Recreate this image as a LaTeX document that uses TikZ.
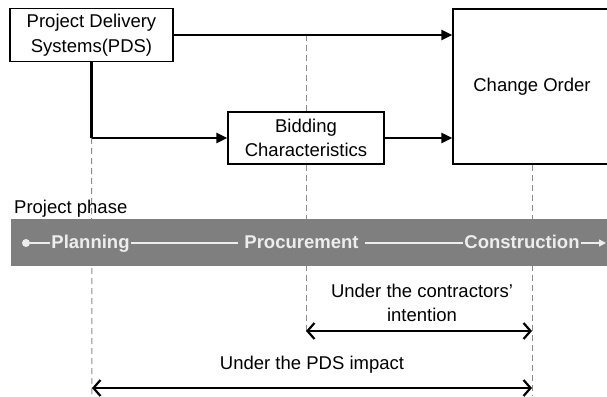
\documentclass[tikz,border=0pt]{standalone}
\usepackage{fontspec}
\setmainfont{Liberation Sans}
\usetikzlibrary{arrows.meta,positioning}
\definecolor{bandgray}{HTML}{7F7F7F}
\definecolor{guidegray}{HTML}{8C8C8C}
\tikzset{
    %Define style for boxes
    box/.style={
        draw=black, line width=1.3pt,
        align=center,
        inner sep=0pt,
    },
    flow/.style={
        line width=2.2pt,
        -{Triangle[length=11pt,width=10pt]},
    },
    span/.style={
        line width=2.2pt,
        {Straight Barb[length=7pt,width=16pt]}-{Straight Barb[length=7pt,width=16pt]},
    },
    guide/.style={
        draw=guidegray, line width=1pt,
        dash pattern=on 6pt off 4pt,
    },
    phase/.style={
        text=white!93!black,
        font=\fontsize{18.5}{22}\selectfont\bfseries,
        inner sep=1pt,
        text height=13.5pt, text depth=3.5pt,
    },
    phaseline/.style={
        draw=white!93!black, line width=1.5pt,
    },
    txt/.style={
        align=center,
        inner sep=0pt,
    },
}

\begin{document}
\begin{tikzpicture}[x=1pt,y=-1pt,font=\fontsize{18.5}{24.5}\selectfont]
    \useasboundingbox (0,0) rectangle (607,396);

    % boxes
    \node[box, minimum width=163pt, minimum height=53pt] (pds) at (91.5,35) {Project Delivery\\Systems(PDS)};
    \node[box, minimum width=156pt, minimum height=52pt] (bid) at (306,138) {Bidding\\Characteristics};
    \node[box, minimum width=158pt, minimum height=155pt] (co) at (532,86.5) {Change Order};

    % guide lines
    \coordinate (g1) at (92,396);
    \coordinate (g3) at (532,396);
    \coordinate (ctrl) at (306,331);
    \coordinate (ctrr) at (532,331);
    \coordinate (pdsl) at (92,388);
    \coordinate (pdsr) at (532,388);
    \draw[guide] (pds.south |- bid.west) -- (g1);
    \draw[guide] (bid.north |- pds.east) -- (bid.north);
    \draw[guide] (bid.south) -- (ctrl);
    \draw[guide] (co.south) -- (g3);

    % connectors
    \draw[flow] (pds.east) -- (pds.east -| co.west);
    \draw[line width=2.2pt] (pds.south) -- (pds.south |- bid.west);
    \draw[flow] (pds.south |- bid.west) -- (bid.west);
    \draw[flow] (bid.east) -- (bid.east -| co.west);

    % project phase band
    \node[anchor=west, inner sep=0pt] (phasetxt) at (14,209) {Project phase};
    \node[fill=bandgray, minimum width=598pt, minimum height=47pt, inner sep=0pt] (band) at (310,242.5) {};
    \node[circle, fill=white!93!black, inner sep=0pt, minimum size=8pt] (dot) at (26,243) {};
    \node[phase] (plan) at (90.5,243) {Planning};
    \node[phase] (proc) at (301.5,243) {Procurement};
    \node[phase] (cons) at (522,243) {Construction};
    \coordinate (bandend) at (606,243);
    \draw[phaseline] (dot) -- (plan);
    \draw[phaseline] (plan) -- ([xshift=-5pt]proc.west);
    \draw[phaseline] ([xshift=5pt]proc.east) -- (cons);
    \draw[phaseline, -{Triangle[length=7pt,width=7pt]}] (cons) -- (bandend);

    % spans
    \node[txt] (ctrtxt) at (422,303) {Under the contractors'\\intention};
    \draw[span] (ctrl) -- (ctrr);
    \node[txt] (pdstxt) at (312,365) {Under the PDS impact};
    \draw[span] (pdsl) -- (pdsr);
\end{tikzpicture}
\end{document}
